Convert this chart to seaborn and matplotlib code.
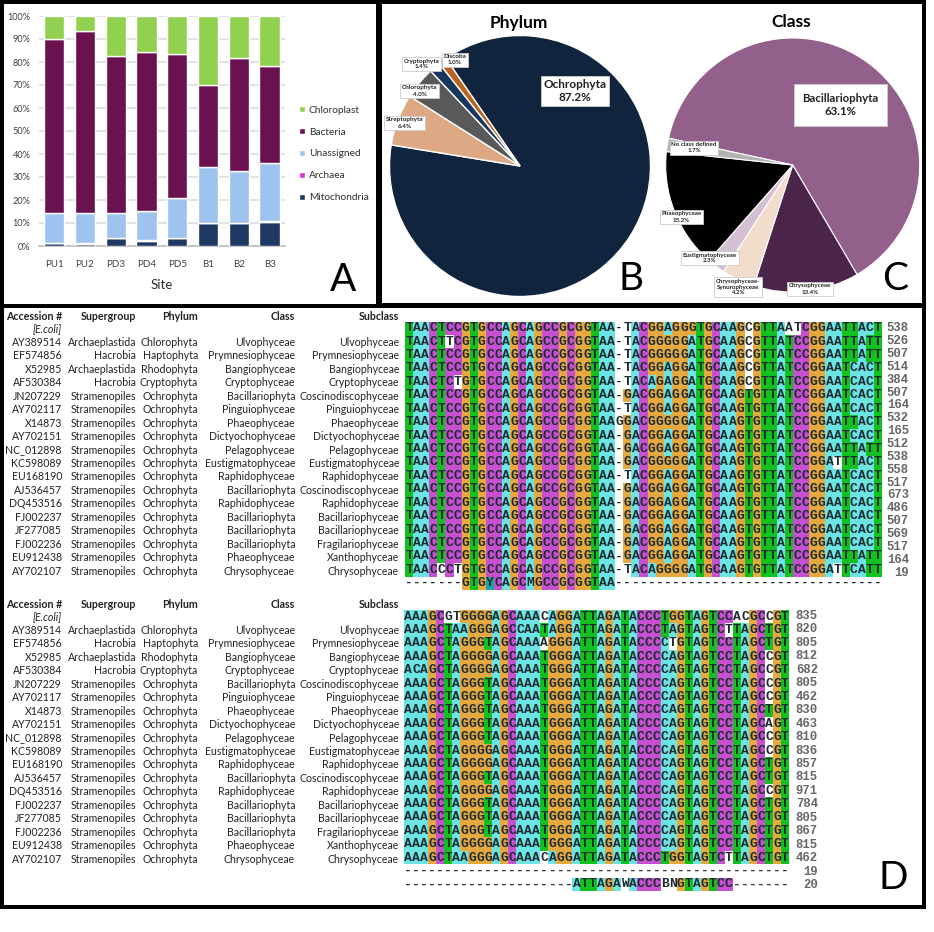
import numpy as np
import seaborn as sns
import matplotlib.pyplot as plt
from matplotlib.colors import ListedColormap
from matplotlib.patches import Rectangle

sns.set_theme(style='white')
plt.rcParams['font.family'] = ['Lato', 'DejaVu Sans']

# panel A
sites = ['PU1', 'PU2', 'PD3', 'PD4', 'PD5', 'B1', 'B2', 'B3']
mitochondria = [1.2, 1.0, 3.5, 2.3, 3.5, 10.0, 9.8, 10.6]
archaea = [0.1, 0.1, 0.1, 0.3, 0.1, 0.1, 0.1, 0.1]
unassigned = [13.2, 13.1, 10.8, 12.5, 17.4, 24.3, 22.5, 25.3]
bacteria = [75.7, 79.1, 68.4, 69.3, 62.5, 35.6, 49.2, 42.2]
chloroplast = [9.8, 6.7, 17.2, 15.6, 16.5, 30.0, 18.4, 21.8]

# panels B and C
phylum_names = ['Ochrophyta', 'Streptophyta', 'Chlorophyta', 'Cryptophyta', 'Discoba']
phylum_values = [87.2, 6.4, 4.0, 1.4, 1.0]
class_names = ['Bacillariophyta', 'Chrysophyceae', 'Chrysophyceae-\nSynurophyceae',
               'Eustigmatophyceae', 'Phaeophyceae', 'No class defined']
class_values = [63.1, 13.4, 4.2, 2.3, 15.2, 1.7]

# panel D
accession = ['AY389514', 'EF574856', 'X52985', 'AF530384', 'JN207229', 'AY702117', 'X14873',
             'AY702151', 'NC_012898', 'KC598089', 'EU168190', 'AJ536457', 'DQ453516',
             'FJ002237', 'JF277085', 'FJ002236', 'EU912438', 'AY702107']
supergroup = ['Archaeplastida', 'Hacrobia', 'Archaeplastida', 'Hacrobia'] + ['Stramenopiles'] * 14
phylum = ['Chlorophyta', 'Haptophyta', 'Rhodophyta', 'Cryptophyta'] + ['Ochrophyta'] * 14
tax_class = ['Ulvophyceae', 'Prymnesiophyceae', 'Bangiophyceae', 'Cryptophyceae', 'Bacillariophyta',
             'Pinguiophyceae', 'Phaeophyceae', 'Dictyochophyceae', 'Pelagophyceae',
             'Eustigmatophyceae', 'Raphidophyceae', 'Bacillariophyta', 'Raphidophyceae',
             'Bacillariophyta', 'Bacillariophyta', 'Bacillariophyta', 'Phaeophyceae', 'Chrysophyceae']
subclass = ['Ulvophyceae', 'Prymnesiophyceae', 'Bangiophyceae', 'Cryptophyceae', 'Coscinodiscophyceae',
            'Pinguiophyceae', 'Phaeophyceae', 'Dictyochophyceae', 'Pelagophyceae',
            'Eustigmatophyceae', 'Raphidophyceae', 'Coscinodiscophyceae', 'Raphidophyceae',
            'Bacillariophyceae', 'Bacillariophyceae', 'Fragilariophyceae', 'Xanthophyceae', 'Chrysophyceae']

seqs_1 = [
    'TAACTCCGTGCCAGCAGCCGCGGTAA-TACGGAGGGTGCAAGCGTTAATCGGAATTACT',
    'TAACTTCGTGCCAGCAGCCGCGGTAA-TACGGGGGATGCAAGCGTTATCCGGAATTATT',
    'TAACTCCGTGCCAGCAGCCGCGGTAA-TACGGGGGATGCAAGCGTTATCCGGAATTATT',
    'TAACTCCGTGCCAGCAGCCGCGGTAA-TACGGAGGATGCAAGCGTTATCCGGAATCACT',
    'TAACTCTGTGCCAGCAGCCGCGGTAA-TACAGAGGATGCAAGCGTTATCCGGAATCACT',
    'TAACTCCGTGCCAGCAGCCGCGGTAA-GACGGAGGATGCAAGTGTTATCCGGAATCACT',
    'TAACTCCGTGCCAGCAGCCGCGGTAA-TACGGAGGATGCAAGTGTTATCCGGAATCACT',
    'TAACTCCGTGCCAGCAGCCGCGGTAAGGACGGGGGATGCAAGTGTTATCCGGAATTACT',
    'TAACTCCGTGCCAGCAGCCGCGGTAA-GACGGAGGATGCAAGTGTTATCCGGAATCACT',
    'TAACTCCGTGCCAGCAGCCGCGGTAA-GACGGAGGATGCAAGTGTTATCCGGAATTATT',
    'TAACTCCGTGCCAGCAGCCGCGGTAA-GACGGGGGATGCAAGTGTTATCCGGATTTACT',
    'TAACTCCGTGCCAGCAGCCGCGGTAA-TACGGAGGATGCAAGTGTTATCCGGAATCACT',
    'TAACTCCGTGCCAGCAGCCGCGGTAA-GACGGAGGATGCAAGTGTTATCCGGAATCACT',
    'TAACTCCGTGCCAGCAGCCGCGGTAA-GACGGAGGATGCAAGTGTTATCCGGAATCACT',
    'TAACTCCGTGCCAGCAGCCGCGGTAA-GACGGAGGATGCAAGTGTTATCCGGAATCACT',
    'TAACTCCGTGCCAGCAGCCGCGGTAA-GACGGAGGATGCAAGTGTTATCCGGAATCACT',
    'TAACTCCGTGCCAGCAGCCGCGGTAA-GACGGAGGATGCAAGTGTTATCCGGAATCACT',
    'TAACTCCGTGCCAGCAGCCGCGGTAA-GACGGAGGATGCAAGTGTTATCCGGAATTATT',
    'TAACCCTGTGCCAGCAGCCGCGGTAA-TACAGGGGATGCAAGTGTTATCCGGATTCATT',
    '-------GTGYCAGCMGCCGCGGTAA---------------------------------',
]
seqs_2 = [
    'AAAGCGTGGGGAGCAAACAGGATTAGATACCCTGGTAGTCCACGCCGT',
    'AAAGCTAAGGGAGCCAATAGGATTAGATACCCTAGTAGTCTTAGCTGT',
    'AAAGCTAGGGTAGCAAAAGGGATTAGATACCCCTGTAGTCCTAGCTGT',
    'AAAGCTAGGGGAGCAAATGGGATTAGATACCCCAGTAGTCCTAGCCGT',
    'ACAGCTAGGGGAGCAAATGGGATTAGATACCCCAGTAGTCCTAGCCGT',
    'AAAGCTAGGGTAGCAAATGGGATTAGATACCCCAGTAGTCCTAGCCGT',
    'AAAGCTAGGGTAGCAAATGGGATTAGATACCCCAGTAGTCCTAGCCGT',
    'AAAGCTAGGGTAGCAAATGGGATTAGATACCCCAGTAGTCCTAGCTGT',
    'AAAGCTAGGGTAGCAAATGGGATTAGATACCCCAGTAGTCCTAGCAGT',
    'AAAGCTAGGGTAGCAAATGGGATTAGATACCCCAGTAGTCCTAGCCGT',
    'AAAGCTAGGGGAGCAAATGGGATTAGATACCCCAGTAGTCCTAGCCGT',
    'AAAGCTAGGGGAGCAAATGGGATTAGATACCCCAGTAGTCCTAGCTGT',
    'AAAGCTAGGGTAGCAAATGGGATTAGATACCCCAGTAGTCCTAGCTGT',
    'AAAGCTAGGGGAGCAAATGGGATTAGATACCCCAGTAGTCCTAGCCGT',
    'AAAGCTAGGGTAGCAAATGGGATTAGATACCCCAGTAGTCCTAGCTGT',
    'AAAGCTAGGGTAGCAAATGGGATTAGATACCCCAGTAGTCCTAGCTGT',
    'AAAGCTAGGGTAGCAAATGGGATTAGATACCCCAGTAGTCCTAGCTGT',
    'AAAGCTAGGGGAGCAAATGGGATTAGATACCCCAGTAGTCCTAGCTGT',
    'AAAGCTAAGGGAGCAAACAGGATTAGATACCCTGGTAGTCTTAGCTGT',
    '------------------------------------------------',
    '---------------------ATTAGAWACCCBNGTAGTCC-------',
]
numbers_1 = [538, 526, 507, 514, 384, 507, 164, 532, 165, 512, 538, 558, 517, 673, 486, 507, 569, 517, 164, 19]
numbers_2 = [835, 820, 805, 812, 682, 805, 462, 830, 463, 810, 836, 857, 815, 971, 784, 805, 867, 815, 462, 19, 20]

W, H = 934, 932


def px_axes(fig, x0, y0, x1, y1, **kw):
    # axes from a pixel box, y counted from the top
    return fig.add_axes([x0 / W, 1 - y1 / H, (x1 - x0) / W, (y1 - y0) / H], **kw)


def cell_codes(seqs, mixed_cols, n_main=19):
    # clustal style colouring, decided per column
    codes = np.zeros((len(seqs), len(seqs[0])), dtype=int)
    base_code = {'T': 1, 'A': 2, 'C': 3, 'G': 4, 'M': 2, 'Y': 5}
    for r, s in enumerate(seqs):
        for c, ch in enumerate(s):
            col = [q[c] for q in seqs[:n_main]]
            if r >= n_main:
                codes[r, c] = base_code.get(ch, 0)
            elif ch in 'AG':
                if (col.count('A') + col.count('G')) / n_main >= 0.45:
                    codes[r, c] = base_code[ch]
            elif c in mixed_cols and ch == 'T':
                codes[r, c] = 1
            elif c in mixed_cols and ch == 'C':
                codes[r, c] = 2
            elif ch in 'TC' and col.count(ch) / n_main >= 0.45:
                codes[r, c] = base_code[ch]
    return codes


fig = plt.figure(figsize=(W / 100, H / 100), dpi=100, facecolor='white')

# black frame with white panels
bg = px_axes(fig, 0, 0, W, H, zorder=-1)
bg.set_xlim(0, W)
bg.set_ylim(H, 0)
bg.axis('off')
bg.add_patch(Rectangle((0, 0), 926, 909, fc='black', ec='none'))
for x0, y0, x1, y1 in [(4, 4, 376, 304), (382, 4, 922, 303), (4, 308, 922, 905)]:
    bg.add_patch(Rectangle((x0, y0), x1 - x0, y1 - y0, fc='white', ec='none'))

# A: stacked bars
ax = px_axes(fig, 38.7, 16, 285, 246)
layers = [('Mitochondria', mitochondria, '#1F3864'), ('Archaea', archaea, '#E030E0'),
          ('Unassigned', unassigned, '#9DC3EE'), ('Bacteria', bacteria, '#6A1150'),
          ('Chloroplast', chloroplast, '#92D050')]
bottom = np.zeros(len(sites))
for name, vals, col in layers:
    sns.barplot(x=sites, y=vals, bottom=bottom, color=col, saturation=1, width=0.66,
                label=name, ax=ax, zorder=3)
    bottom = bottom + np.array(vals)
ax.set_xlim(-0.5, 7.5)
ax.set_ylim(0, 100)
ax.set_yticks(range(0, 101, 10))
ax.set_yticklabels([f'{v}%' for v in range(0, 101, 10)], fontsize=6.6, color='#404040')
ax.tick_params(axis='x', labelsize=7, labelcolor='#404040', length=0, pad=10)
ax.tick_params(axis='y', length=0, pad=6)
ax.grid(axis='y', color='#DDDDDD', lw=1.2)
ax.set_axisbelow(True)
sns.despine(ax=ax, top=True, right=True, left=True)
ax.spines['bottom'].set_color('#BFBFBF')
ax.set_xlabel('Site', fontsize=9.5, color='#303030', labelpad=7)
handles, labels = ax.get_legend_handles_labels()
ax.legend(handles[::-1], labels[::-1], loc='center left', bbox_to_anchor=(1.018, 0.40), frameon=False,
          fontsize=7.3, labelspacing=1.28, handlelength=0.65, handleheight=0.65, handletextpad=0.35,
          labelcolor='#303030')

# B and C: pies
pb = px_axes(fig, 520 - 130.5 * 1.25, 166 - 130.5 * 1.25, 520 + 130.5 * 1.25, 166 + 130.5 * 1.25)
pb.pie(phylum_values, startangle=124.6, counterclock=False,
       colors=['#10243E', '#DDA985', '#595959', '#17375E', '#B9651E'])
pc = px_axes(fig, 792.7 - 127 * 1.25, 165 - 127 * 1.25, 792.7 + 127 * 1.25, 165 + 127 * 1.25)
pc.pie(class_values, startangle=167.8, counterclock=False,
       colors=['#93608C', '#4A2449', '#F2DCCB', '#D4BFD2', '#000000', '#B3B3B3'],
       wedgeprops={'edgecolor': 'white', 'linewidth': 0.8})
pb.patch.set_alpha(0)
pc.patch.set_alpha(0)

# D: alignment blocks
base_cmap = ListedColormap(['#FFFFFF', '#12C020', '#6CE4E4', '#C650D0', '#E6A940', '#18A5A5'])
for seqs, mixed, box in [(seqs_1, {55, 57}, (405, 321.5, 882, 590)),
                         (seqs_2, {1, 14, 32}, (404, 610, 789, 891))]:
    hm = px_axes(fig, *box)
    letters = np.array([list(s) for s in seqs])
    sns.heatmap(cell_codes(seqs, mixed), cmap=base_cmap, vmin=0, vmax=5, cbar=False, annot=letters, fmt='',
                annot_kws={'fontsize': 9.4, 'family': 'Liberation Mono', 'weight': 'bold', 'color': '#1C2B30'},
                xticklabels=False, yticklabels=False, ax=hm)

# all remaining text, in pixel coordinates
ov = px_axes(fig, 0, 0, W, H, zorder=5)
ov.set_xlim(0, W)
ov.set_ylim(H, 0)
ov.axis('off')
ov.patch.set_alpha(0)

for s, x, y in [('A', 343, 280), ('B', 630.7, 279), ('C', 895, 279), ('D', 893, 878)]:
    ov.text(x, y, s, fontsize=28, ha='center', va='center', color='black')
ov.text(518.7, 23, 'Phylum', fontsize=12.5, weight='bold', ha='center', va='center', color='black')
ov.text(791, 22, 'Class', fontsize=12.5, weight='bold', ha='center', va='center', color='black')


def pie_label(x, y, name, val, size, pad=0.25):
    ov.text(x, y, f'{name}\n{val}%', fontsize=size, weight='bold', ha='center', va='center', color='#222222',
            linespacing=1.25, bbox=dict(boxstyle=f'square,pad={pad}', fc='white', ec='#CCCCCC', lw=0.6))


pie_label(575, 91, phylum_names[0], phylum_values[0], 8.5)
for i, (x, y) in zip([1, 2, 3, 4], [(404.6, 123), (419.8, 91), (421.5, 64), (455, 60)]):
    pie_label(x, y, phylum_names[i], phylum_values[i], 4.6)
pie_label(840.6, 105, class_names[0], class_values[0], 8.2, pad=0.75)
for i, (x, y) in zip([1, 2, 3, 4, 5], [(810, 289), (738, 287), (710, 258), (681.4, 217), (694, 148)]):
    pie_label(x, y, class_names[i], class_values[i], 4.4)

col_right = [62, 136, 198, 295, 399]
headers = ['Accession #', 'Supergroup', 'Phylum', 'Class', 'Subclass']
for top in [316, 604]:
    for x, s in zip(col_right, headers):
        ov.text(x, top, s, fontsize=7.7, weight='bold', ha='right', va='center', color='#222222')
    ov.text(col_right[0], top + 13, '[E.coli]', fontsize=7.6, style='italic', ha='right', va='center',
            color='#222222')
    for i in range(len(accession)):
        y = top + 13 + 13.45 * (i + 1)
        for x, s in zip(col_right, [accession[i], supergroup[i], phylum[i], tax_class[i], subclass[i]]):
            ov.text(x, y, s, fontsize=7.6, ha='right', va='center', color='#222222')

for i, n in enumerate(numbers_1):
    ov.text(909, 328.3 + 12.86 * i, str(n), fontsize=8.8, family='Liberation Mono', weight='bold',
            ha='right', va='center', color='#666666')
for i, n in enumerate(numbers_2):
    ov.text(818, 616 + 13.45 * i, str(n), fontsize=8.8, family='Liberation Mono', weight='bold',
            ha='right', va='center', color='#666666')

fig.savefig('out.png', dpi=100)
